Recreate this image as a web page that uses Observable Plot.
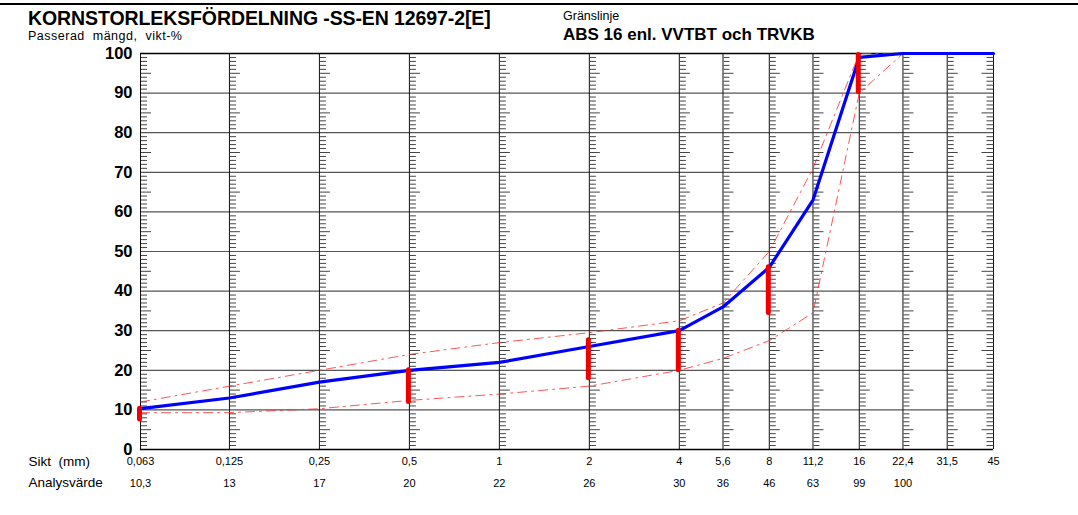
<!DOCTYPE html>
<html>
<head>
<meta charset="utf-8">
<script src="https://cdn.jsdelivr.net/npm/d3@7"></script>
<script src="https://cdn.jsdelivr.net/npm/@observablehq/plot@0.6"></script>
<style>
  html, body { margin: 0; padding: 0; background: #fff; }
  #wrap { width: 1078px; font-family: "Liberation Sans", Arial, sans-serif; color: #000; }
  #head { position: relative; height: 46px; }
  #head .rule { position: absolute; left: 0; right: 0; top: 3px; height: 1.5px; background: #000; }
  #head div.t { position: absolute; white-space: pre; }
</style>
</head>
<body>
<div id="wrap">
  <div id="head">
    <div class="rule"></div>
    <div class="t" style="left:28px; top:10.2px; font-size:19.5px; line-height:16px; font-weight:bold; letter-spacing:-0.1px;">KORNSTORLEKSFÖRDELNING -SS-EN 12697-2[E]</div>
    <div class="t" style="left:28px; top:30.8px; font-size:12.5px; line-height:11px; letter-spacing:0.5px;">Passerad  mängd,  vikt-%</div>
    <div class="t" style="left:563px; top:11px; font-size:12.5px; line-height:11px;">Gränslinje</div>
    <div class="t" style="left:563px; top:27px; font-size:17px; line-height:15px; font-weight:bold;">ABS 16 enl. VVTBT och TRVKB</div>
  </div>
  <div id="chart"></div>
</div>
<script>
// ---- data ----
const sieves      = [0.063, 0.125, 0.25, 0.5, 1, 2, 4, 5.6, 8, 11.2, 16, 22.4, 31.5, 45];
const sieveLabels = ["0,063", "0,125", "0,25", "0,5", "1", "2", "4", "5,6", "8", "11,2", "16", "22,4", "31,5", "45"];
const passing     = [10.3, 13, 17, 20, 22, 26, 30, 36, 46, 63, 99, 100, 100, 100];
const analysLabels = ["10,3", "13", "17", "20", "22", "26", "30", "36", "46", "63", "99", "100", "", ""];
const upperLimit  = [12, 16, 20, 24, 27, 29.5, 32.5, 37, 50, 71, 100, 100, 100, 100];
const lowerLimit  = [9.3, 9.3, 10.3, 12.4, 14, 16, 20, 23, 27.5, 34.5, 90, 100, 100, 100];
const barSieves   = [0.063, 0.5, 2, 4, 8, 16];
const barLow      = [7.6, 12, 18, 20, 34.5, 90.3];
const barHigh     = [10.3, 20, 27.6, 30, 46, 99.6];
const yTicks      = [0, 10, 20, 30, 40, 50, 60, 70, 80, 90, 100];

// ---- derived tables ----
const curve = sieves.map((s, i) => ({s, v: passing[i]}));
const upper = sieves.map((s, i) => ({s, v: upperLimit[i]}));
const lower = sieves.map((s, i) => ({s, v: lowerLimit[i]}));
const bars  = barSieves.map((s, i) => ({s, lo: barLow[i], hi: barHigh[i]}));
const minorVals = d3.range(1, 100).filter(v => v % 10 !== 0);
const minor = [];
sieves.forEach((s, i) => minorVals.forEach(v => minor.push({s, v, long: v % 5 === 0, left: i === sieves.length - 1})));

const tickSym = (len) => ({draw(ctx) { ctx.moveTo(0, 0); ctx.lineTo(len, 0); }});

const chart = Plot.plot({
  width: 1078,
  height: 469,
  marginLeft: 140,
  marginRight: 85,
  marginTop: 7,
  marginBottom: 66,
  style: {fontFamily: "'Liberation Sans', Arial, sans-serif", background: "#fff", color: "#000", overflow: "visible"},
  x: {type: "log", domain: [0.063, 45], axis: null},
  y: {domain: [0, 100], axis: null},
  marks: [
    Plot.ruleY(yTicks.filter(d => d > 0 && d < 100), {stroke: "#555", strokeWidth: 1.2}),
    Plot.ruleX(sieves, {y1: 0, y2: 100, stroke: "#111", strokeWidth: 1}),
    Plot.dot(minor.filter(d => !d.left && !d.long), {x: "s", y: "v", symbol: tickSym(6), fill: "none", stroke: "#444", strokeWidth: 1, dx: 0.5}),
    Plot.dot(minor.filter(d => !d.left && d.long), {x: "s", y: "v", symbol: tickSym(10), fill: "none", stroke: "#444", strokeWidth: 1, dx: 0.5}),
    Plot.dot(minor.filter(d => d.left && !d.long), {x: "s", y: "v", symbol: tickSym(-7), fill: "none", stroke: "#444", strokeWidth: 1}),
    Plot.dot(minor.filter(d => d.left && d.long), {x: "s", y: "v", symbol: tickSym(-12), fill: "none", stroke: "#444", strokeWidth: 1}),
    Plot.ruleY([0, 100], {stroke: "#000", strokeWidth: 1.6}),
    Plot.line(upper, {x: "s", y: "v", stroke: "#ff2a2a", strokeWidth: 1, strokeDasharray: "9,5,2,5", strokeOpacity: 0.8}),
    Plot.line(lower, {x: "s", y: "v", stroke: "#ff2a2a", strokeWidth: 1, strokeDasharray: "9,5,2,5", strokeOpacity: 0.8}),
    Plot.line(curve, {x: "s", y: "v", stroke: "#0000ff", strokeWidth: 3.2}),
    Plot.ruleX(bars, {x: "s", y1: "lo", y2: "hi", stroke: "#ee0000", strokeWidth: 5, strokeLinecap: "round", dx: -1}),
    Plot.text(yTicks, {y: d => d, text: d => String(d), frameAnchor: "left", dx: -8, textAnchor: "end", fontWeight: "bold", fontSize: 16.5, fill: "#000"}),
    Plot.text(sieves, {x: d => d, text: (d, i) => sieveLabels[i], frameAnchor: "bottom", dy: 15.5, fontSize: 11, fill: "#000"}),
    Plot.text(sieves, {x: d => d, text: (d, i) => analysLabels[i], frameAnchor: "bottom", dy: 37.5, fontSize: 11, fill: "#000"}),
    Plot.text(["Sikt  (mm)"], {text: d => d, frameAnchor: "bottom-left", dx: -112, dy: 16, textAnchor: "start", fontSize: 13.5, fill: "#000"}),
    Plot.text(["Analysvärde"], {text: d => d, frameAnchor: "bottom-left", dx: -112, dy: 37.5, textAnchor: "start", fontSize: 13.5, fill: "#000"})
  ]
});
document.getElementById("chart").appendChild(chart);
</script>
</body>
</html>
